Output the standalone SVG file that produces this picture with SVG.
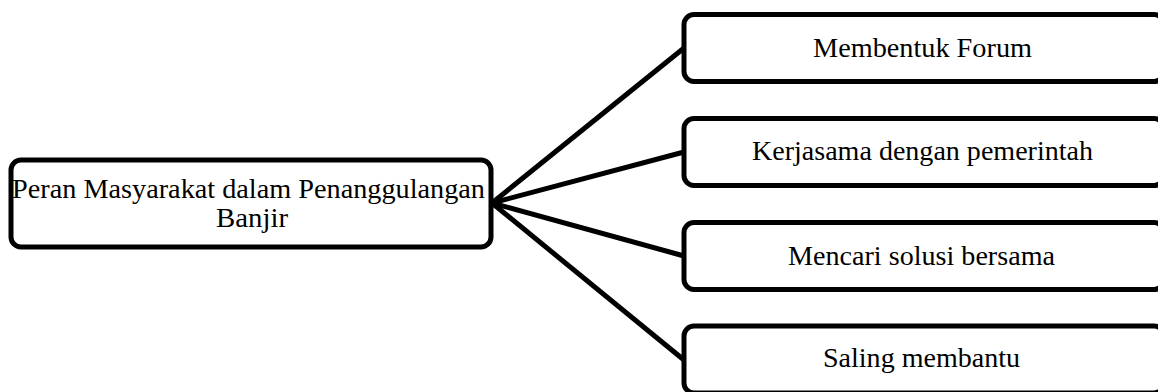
<svg xmlns="http://www.w3.org/2000/svg" width="1158" height="392" viewBox="0 0 1158 392">
<style>
.box{fill:#fff;stroke:#000;stroke-width:5}
.lbl{font-family:"Liberation Serif","Times New Roman",serif;font-size:27px;fill:#000;text-anchor:middle}
.conn{stroke:#000;stroke-width:5;fill:none}
</style>
<rect width="1158" height="392" fill="#fff"/>
<g id="connectors">
<line class="conn" x1="492" y1="203" x2="684" y2="48"/>
<line class="conn" x1="492" y1="203" x2="684" y2="152"/>
<line class="conn" x1="492" y1="203" x2="684" y2="256"/>
<line class="conn" x1="492" y1="203" x2="684" y2="360"/>
</g>
<g id="root">
<rect class="box" x="11" y="160" width="480" height="87" rx="10"/>
<text class="lbl" x="248.5" y="198" textLength="473" lengthAdjust="spacingAndGlyphs">Peran Masyarakat dalam Penanggulangan</text>
<text class="lbl" x="252" y="227" textLength="72" lengthAdjust="spacingAndGlyphs">Banjir</text>
</g>
<g id="n1">
<rect class="box" x="684" y="14.5" width="480" height="67" rx="10"/>
<text class="lbl" x="922.5" y="57" textLength="219" lengthAdjust="spacingAndGlyphs">Membentuk Forum</text>
</g>
<g id="n2">
<rect class="box" x="684" y="118.5" width="480" height="67" rx="10"/>
<text class="lbl" x="922.5" y="160" textLength="341" lengthAdjust="spacingAndGlyphs">Kerjasama dengan pemerintah</text>
</g>
<g id="n3">
<rect class="box" x="684" y="222.5" width="480" height="67" rx="10"/>
<text class="lbl" x="921.5" y="265" textLength="267" lengthAdjust="spacingAndGlyphs">Mencari solusi bersama</text>
</g>
<g id="n4">
<rect class="box" x="684" y="326" width="480" height="67" rx="10"/>
<text class="lbl" x="921.5" y="367" textLength="197" lengthAdjust="spacingAndGlyphs">Saling membantu</text>
</g>
</svg>
